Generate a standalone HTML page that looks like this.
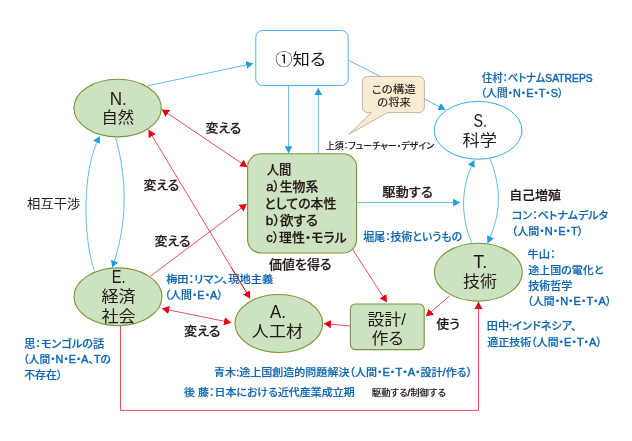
<!DOCTYPE html>
<html lang="ja">
<head>
<meta charset="utf-8">
<title>diagram</title>
<style>
html,body{margin:0;padding:0;background:#fff;}
body{width:632px;height:441px;overflow:hidden;}
svg{display:block;will-change:transform;}
text{font-family:"Liberation Sans","Noto Sans CJK JP",sans-serif;font-feature-settings:"palt" 1;}
.node{font-size:15.8px;font-weight:400;fill:#231815;color:#231815;}
.nodel{font-size:17.6px;font-weight:400;fill:#231815;color:#231815;}
.hum{font-size:12.8px;font-weight:500;fill:#231815;color:#231815;stroke:#231815;stroke-width:0.2px;}
.lab{font-size:12.3px;font-weight:500;fill:#231815;color:#231815;stroke:#231815;stroke-width:0.2px;}
.labr{font-size:12.6px;font-weight:400;fill:#231815;color:#231815;}
.sm{font-size:8.9px;font-weight:500;fill:#231815;color:#231815;stroke:#231815;stroke-width:0.1px;}
.smr{font-size:9.1px;font-weight:400;fill:#231815;color:#231815;}
.co{font-size:10.5px;font-weight:400;fill:#231815;color:#231815;stroke:#231815;stroke-width:0.15px;}
.bl{font-size:10.8px;font-weight:500;fill:#0f67b4;color:#0f67b4;stroke:#0f67b4;stroke-width:0.18px;}
.b{stroke:#1d9fe3;stroke-width:0.7;fill:none;}
.r{stroke:#e60012;stroke-width:0.7;fill:none;}
.g{fill:#cde2c0;stroke:#7a9638;stroke-width:1.1;}
.la{stroke:currentColor;stroke-width:0.45px;}
</style>
</head>
<body>
<svg width="632" height="441" viewBox="0 0 632 441">
<defs>
<marker id="ab" markerWidth="9" markerHeight="9" refX="6.8" refY="3.85" orient="auto-start-reverse" markerUnits="userSpaceOnUse"><path d="M0,0 L7,3.85 L0,7.7 Z" fill="#1d9fe3"/></marker>
<marker id="ar" markerWidth="9" markerHeight="9" refX="7" refY="4.1" orient="auto-start-reverse" markerUnits="userSpaceOnUse"><path d="M0,0 L7.2,4.1 L0,8.2 Z" fill="#e60012"/></marker>
</defs>
<rect width="632" height="441" fill="#fff"/>
<!-- blue connectors -->
<line class="b" x1="147.6" y1="85.8" x2="253" y2="63.5" marker-end="url(#ab)"/>
<line class="b" x1="288.6" y1="85.3" x2="288.6" y2="153" marker-end="url(#ab)"/>
<line class="b" x1="318.3" y1="153.4" x2="318.3" y2="88.2" marker-end="url(#ab)"/>
<line class="b" x1="348.2" y1="60.2" x2="445.2" y2="109.6" marker-end="url(#ab)"/>
<line class="b" x1="357" y1="202.6" x2="460" y2="202.6" marker-end="url(#ab)"/>
<path class="b" d="M471.6,242.6 C460.5,215 460.5,188 474.2,160.2" marker-end="url(#ab)"/>
<path class="b" d="M490,159 C501.5,187 501.5,214 487.6,243" marker-end="url(#ab)"/>
<path class="b" d="M94.4,270.6 C84,243 80.6,171 99.8,136.4" marker-end="url(#ab)"/>
<path class="b" d="M115.6,137.6 C127.5,180 127.5,224 112.4,267.4" marker-end="url(#ab)"/>
<!-- red connectors -->
<line class="r" x1="162" y1="109.6" x2="247.2" y2="167" marker-start="url(#ar)" marker-end="url(#ar)"/>
<line class="r" x1="148.6" y1="130" x2="250" y2="298.4" marker-start="url(#ar)" marker-end="url(#ar)"/>
<line class="r" x1="150.2" y1="276.4" x2="246.6" y2="204" marker-end="url(#ar)"/>
<line class="r" x1="162.2" y1="308.6" x2="231" y2="322.6" marker-start="url(#ar)" marker-end="url(#ar)"/>
<line class="r" x1="352.4" y1="249" x2="386.8" y2="302.2" marker-end="url(#ar)"/>
<line class="r" x1="350.4" y1="326" x2="324" y2="323.6" marker-end="url(#ar)"/>
<line class="r" x1="450" y1="295.6" x2="426" y2="316.2" marker-end="url(#ar)"/>
<path class="r" d="M120.5,325 L120.5,410.4 L478.5,410.4 L478.5,302" marker-end="url(#ar)"/>
<!-- nodes -->
<ellipse class="g" cx="117.6" cy="108.1" rx="43.7" ry="28.8"/>
<ellipse class="g" cx="118" cy="296.8" rx="44" ry="28.9"/>
<ellipse class="g" cx="278.8" cy="323.5" rx="43.8" ry="29"/>
<ellipse class="g" cx="478.3" cy="272.2" rx="44" ry="28.9"/>
<ellipse cx="478.1" cy="130.3" rx="43.9" ry="28.9" fill="#fff" stroke="#1d9fe3" stroke-width="0.9"/>
<rect x="255.8" y="30.5" width="92.4" height="55" rx="6.7" ry="6.7" fill="#fff" stroke="#1d9fe3" stroke-width="0.8"/>
<rect class="g" x="247.6" y="153.7" width="109" height="99.3" rx="13.5" ry="13.5"/>
<rect class="g" x="350.4" y="304" width="73.8" height="45.6" rx="5" ry="5"/>
<!-- callout -->
<path d="M367.8,76.4 H419 A5.4,5.4 0 0 1 424.4,81.8 V107.2 A5.4,5.4 0 0 1 419,112.6 H387.6 L349.2,134 L371.4,112.6 H367.8 A5.4,5.4 0 0 1 362.4,107.2 V81.8 A5.4,5.4 0 0 1 367.8,76.4 Z" fill="#faecd2" stroke="#a79a86" stroke-width="0.7"/>

<text class="nodel" transform="translate(109.74,104.82) scale(0.972,1)">N.</text>
<text class="node" transform="translate(101.42,123.4) scale(1.032,1)">自然</text>
<text class="nodel" transform="translate(111.76,283.23) scale(0.83,1)">E.</text>
<text class="node" transform="translate(101.46,302.48) scale(1.082,1)">経済</text>
<text class="node" transform="translate(101.46,321.8) scale(1.082,1)">社会</text>
<text class="nodel" transform="translate(270.0,318.12) scale(0.96,1)">A.</text>
<text class="node" transform="translate(251.86,337.4) scale(1.081,1)">人工材</text>
<text class="nodel" transform="translate(473.34,267.73) scale(1.021,1)">T.</text>
<text class="node" transform="translate(463.06,286.5) scale(1.075,1)">技術</text>
<text class="nodel" transform="translate(473.39,127.0) scale(0.814,1)">S.</text>
<text class="node" transform="translate(462.45,146.0) scale(1.091,1)">科学</text>
<text class="node" transform="translate(275.25,65.25) scale(1.1,1)">①知る</text>
<text class="node" transform="translate(367.46,324.5) scale(1.07,1)">設計/</text>
<text class="node" transform="translate(371.46,344.0) scale(1.071,1)">作る</text>
<text class="hum" transform="translate(266.76,174.12) scale(0.959,1)">人間</text>
<text class="hum" transform="translate(266.15,191.28) scale(1.007,1)"><tspan class="la">a</tspan>）生物系</text>
<text class="hum" transform="translate(264.38,208.38) scale(1.009,1)">としての本性</text>
<text class="hum" transform="translate(265.87,224.88) scale(1.054,1)"><tspan class="la">b</tspan>）欲する</text>
<text class="hum" transform="translate(266.15,241.88) scale(1.006,1)"><tspan class="la">c</tspan>）理性・モラル</text>
<text class="lab" transform="translate(205.47,133.02) scale(1.05,1)">変える</text>
<text class="lab" transform="translate(143.47,189.62) scale(1.05,1)">変える</text>
<text class="lab" transform="translate(154.47,246.02) scale(1.056,1)">変える</text>
<text class="lab" transform="translate(184.07,336.22) scale(1.069,1)">変える</text>
<text class="labr" transform="translate(27.07,208.05) scale(1.059,1)">相互干渉</text>
<text class="lab" transform="translate(382.13,197.02) scale(1.084,1)">駆動する</text>
<text class="lab" style="font-size:12.9px" transform="translate(269.0,269.08) scale(1.006,1)">価値を得る</text>
<text class="lab" transform="translate(509.15,199.62) scale(1.055,1)">自己増殖</text>
<text class="lab" transform="translate(436.3,329.02) scale(1.047,1)">使う</text>
<text class="sm" transform="translate(325.75,148.77) scale(1.014,1)">上須：フューチャー・デザイン</text>
<text class="sm" transform="translate(371.74,395.58) scale(1.058,1)">駆動する<tspan class="la">/</tspan>制御する</text>
<text class="co" transform="translate(371.81,92.6) scale(1.092,1)">この構造</text>
<text class="co" transform="translate(377.29,106.0) scale(1.08,1)">の将来</text>
<text class="bl" transform="translate(482.0,81.53) scale(0.954,1)">住村：ベトナム<tspan class="la">SATREPS</tspan></text>
<text class="bl" transform="translate(480.76,97.18) scale(0.997,1)">（人間・<tspan class="la">N</tspan>・<tspan class="la">E</tspan>・<tspan class="la">T</tspan>・<tspan class="la">S</tspan>）</text>
<text class="bl" transform="translate(511.98,219.45) scale(1.022,1)">コン：ベトナムデルタ</text>
<text class="bl" transform="translate(511.71,235.1) scale(1.019,1)">（人間・<tspan class="la">N</tspan>・<tspan class="la">E</tspan>・<tspan class="la">T</tspan>）</text>
<text class="bl" transform="translate(527.47,258.32) scale(1.051,1)">牛山：</text>
<text class="bl" transform="translate(528.14,273.97) scale(1.022,1)">途上国の電化と</text>
<text class="bl" transform="translate(528.14,289.62) scale(1.026,1)">技術哲学</text>
<text class="bl" transform="translate(527.32,305.27) scale(1.015,1)">（人間・<tspan class="la">N</tspan>・<tspan class="la">E</tspan>・<tspan class="la">T</tspan>・<tspan class="la">A</tspan>）</text>
<text class="bl" transform="translate(486.82,330.12) scale(1.034,1)">田中<tspan class="la">:</tspan>インドネシア、</text>
<text class="bl" transform="translate(487.35,345.77) scale(1.016,1)">適正技術（人間・<tspan class="la">E</tspan>・<tspan class="la">T</tspan>・<tspan class="la">A</tspan>）</text>
<text class="bl" transform="translate(363.35,240.72) scale(1.01,1)">堀尾：技術というもの</text>
<text class="bl" transform="translate(166.14,282.92) scale(1.04,1)">梅田：リマン、現地主義</text>
<text class="bl" transform="translate(164.73,298.57) scale(1.008,1)">（人間・<tspan class="la">E</tspan>・<tspan class="la">A</tspan>）</text>
<text class="bl" transform="translate(24.14,347.82) scale(1.034,1)">思：モンゴルの話</text>
<text class="bl" transform="translate(23.36,363.47) scale(0.998,1)">（人間・<tspan class="la">N</tspan>・<tspan class="la">E</tspan>・<tspan class="la">A</tspan>、<tspan class="la">T</tspan>の</text>
<text class="bl" transform="translate(24.15,379.12) scale(1.01,1)">不存在）</text>
<text class="bl" transform="translate(214.09,375.5) scale(1.022,1)">青木<tspan class="la">:</tspan>途上国創造的問題解決（人間・<tspan class="la">E</tspan>・<tspan class="la">T</tspan>・<tspan class="la">A</tspan>・設計<tspan class="la">/</tspan>作る）</text>
<text class="bl" transform="translate(184.0,395.52) scale(1.015,1)">後 藤：日本における近代産業成立期</text>
<line class="r overline" x1="148.6" y1="130" x2="250" y2="298.4" stroke-dasharray="0 160 36 400"/>
</svg>
</body>
</html>
